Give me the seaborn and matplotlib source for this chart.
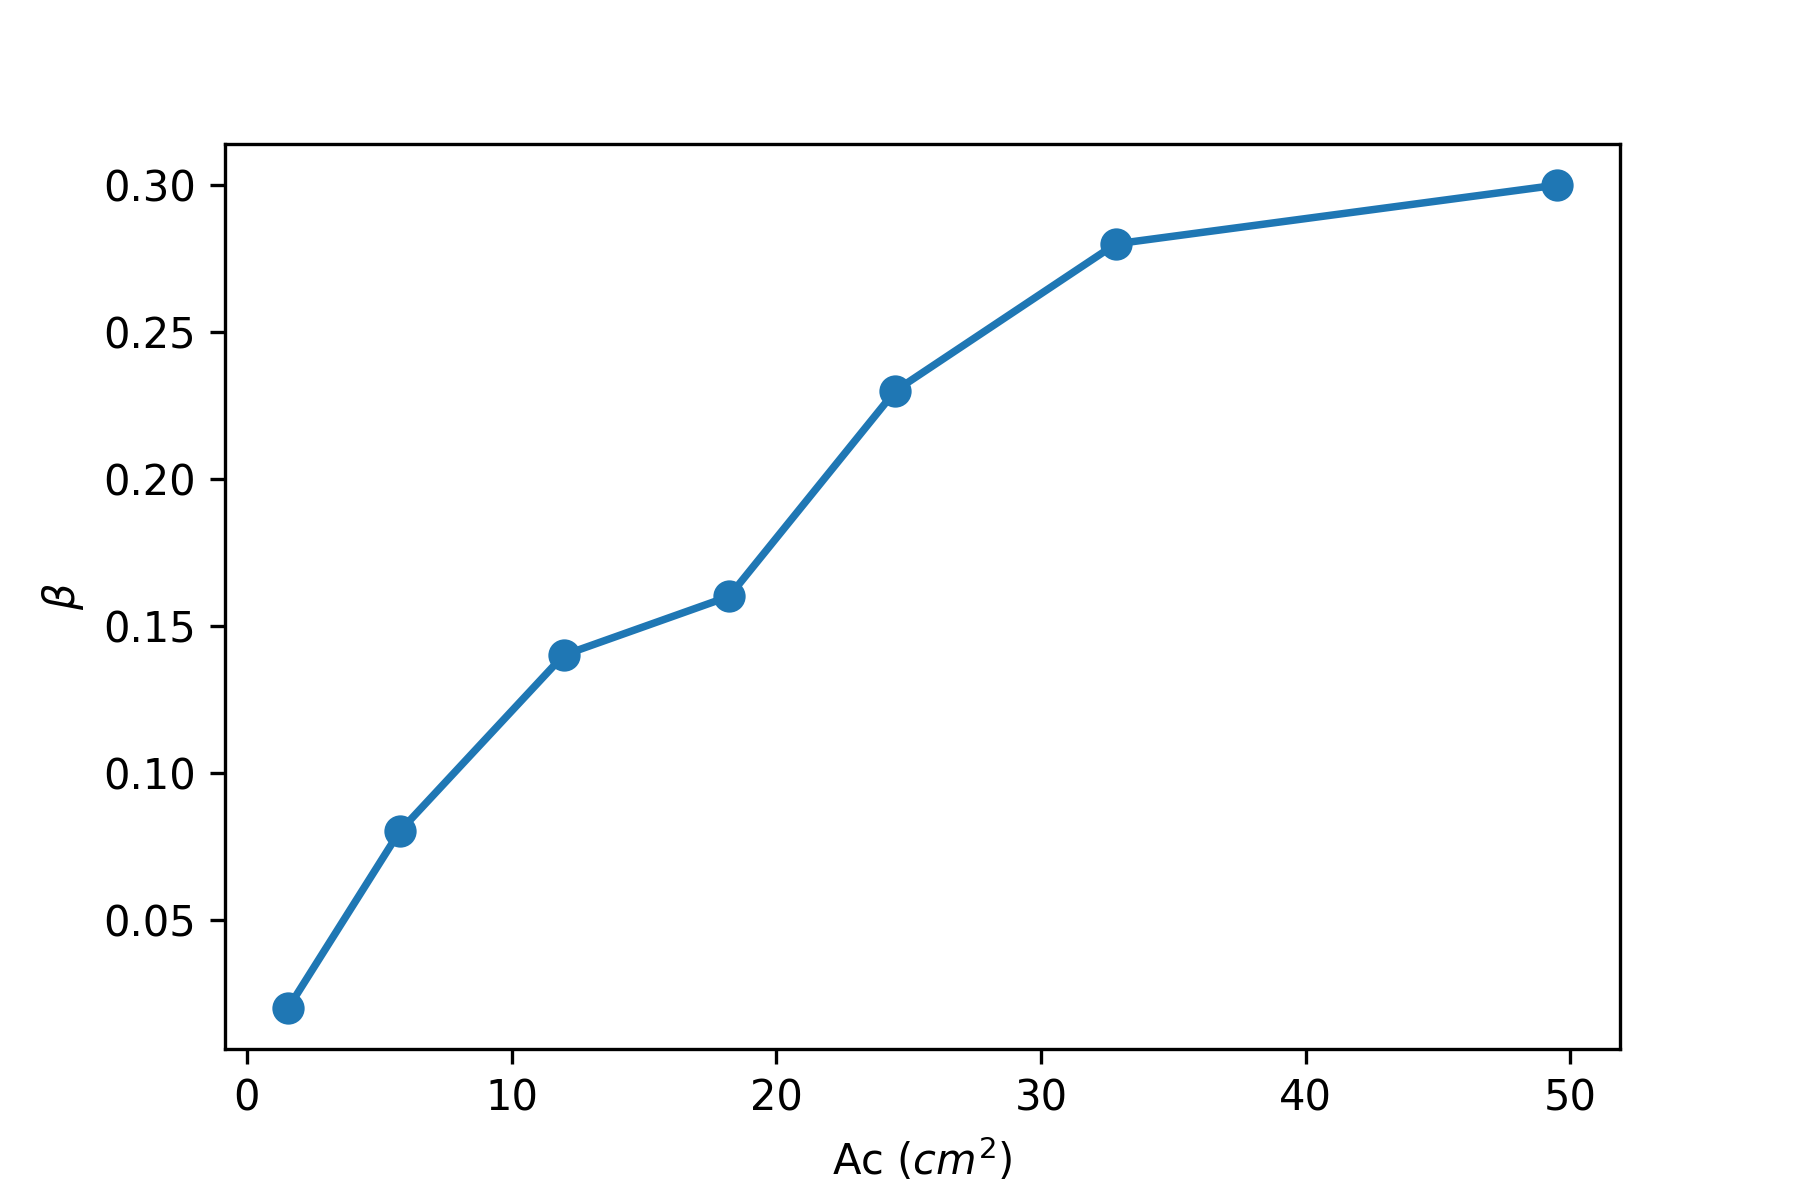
import matplotlib
matplotlib.use("Agg")
import matplotlib.pyplot as plt
import seaborn as sns
import pandas as pd

ac_values = [1.57, 5.77, 11.97, 18.22, 24.5, 32.83, 49.48]
beta_values = [0.02, 0.08, 0.14, 0.16, 0.23, 0.28, 0.30]

df = pd.DataFrame({"Ac": ac_values, "beta": beta_values})

fig, ax = plt.subplots(figsize=(6, 4), dpi=300)
fig.subplots_adjust(bottom=0.126, top=0.88)
sns.lineplot(data=df, x="Ac", y="beta", marker="o", markersize=7,
             markeredgecolor="#1f77b4", color="#1f77b4", linewidth=1.8, ax=ax)
ax.set_xlabel(r"Ac ($cm^2$)")
ax.set_ylabel(r"$\beta$")
ax.set_xticks([0, 10, 20, 30, 40, 50])
ax.set_yticks([0.05, 0.10, 0.15, 0.20, 0.25, 0.30])
fig.savefig("out.png", dpi=300)
